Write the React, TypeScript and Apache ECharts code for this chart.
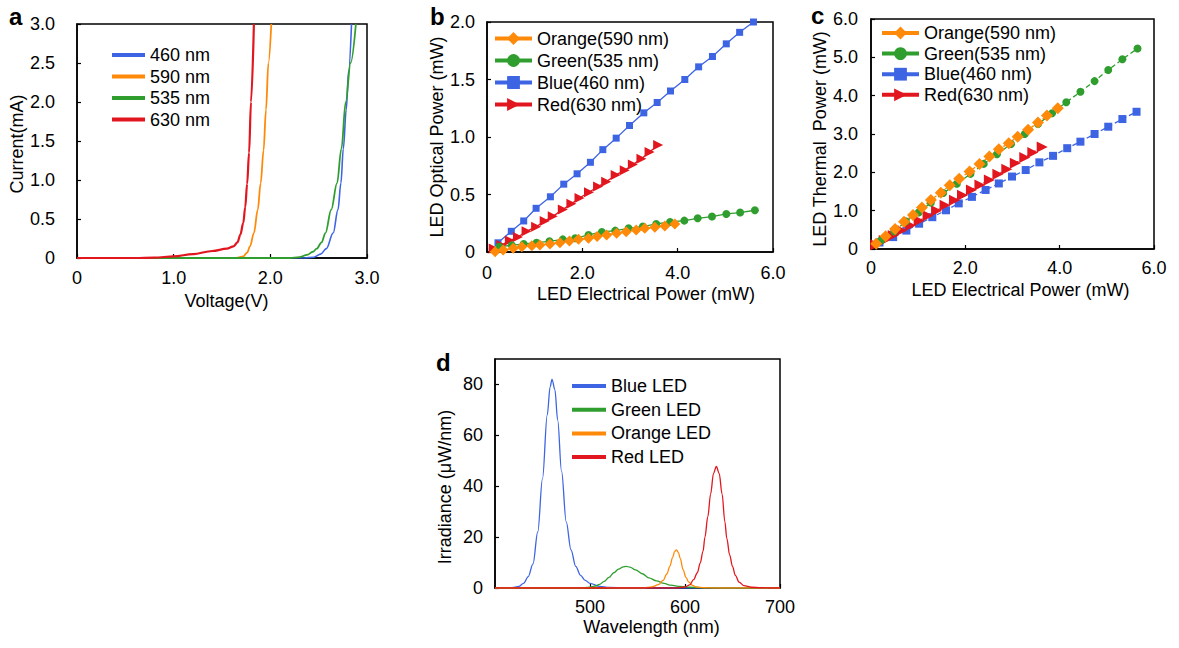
import React, { useEffect, useRef } from 'react';
import * as echarts from 'echarts';

const FONT = '"Liberation Sans", Arial, Helvetica, sans-serif';

const BLUE = '#3D64E3';
const ORANGE = '#FF8A0A';
const GREEN = '#2F9E2F';
const RED = '#E2161E';

// ---------- Panel a: I-V curves [voltage V, current mA] ----------
const a460 = [[0, 0], [2.35, 0], [2.45, 0.01], [2.52, 0.05], [2.58, 0.12], [2.65, 0.32], [2.7, 0.62], [2.73, 0.96], [2.755, 1.4], [2.785, 1.9], [2.81, 2.4], [2.84, 3.0]];
const a590 = [[0, 0], [1.65, 0], [1.72, 0.02], [1.76, 0.07], [1.79, 0.15], [1.83, 0.32], [1.87, 0.62], [1.9, 0.96], [1.93, 1.38], [1.955, 1.9], [1.98, 2.5], [2.01, 3.0]];
const a535 = [[0, 0], [2.2, 0], [2.3, 0.01], [2.38, 0.04], [2.44, 0.08], [2.48, 0.12], [2.53, 0.2], [2.57, 0.32], [2.63, 0.62], [2.69, 0.96], [2.735, 1.4], [2.78, 2.0], [2.83, 2.5], [2.885, 3.0]];
const a630 = [[0, 0], [0.6, 0], [0.8, 0.005], [1.0, 0.02], [1.2, 0.05], [1.4, 0.09], [1.55, 0.12], [1.62, 0.15], [1.66, 0.2], [1.69, 0.3], [1.72, 0.45], [1.74, 0.65], [1.76, 0.95], [1.78, 1.35], [1.8, 2.0], [1.83, 3.0]];
const aNames = ['460 nm', '590 nm', '535 nm', '630 nm'];

// ---------- Panel b: optical power [electrical mW, optical mW] ----------
const bBlue = [[0.23, 0.08], [0.51, 0.18], [0.77, 0.27], [1.03, 0.38], [1.33, 0.48], [1.61, 0.59], [1.89, 0.68], [2.17, 0.78], [2.43, 0.89], [2.71, 0.99], [2.99, 1.1], [3.29, 1.21], [3.57, 1.3], [3.85, 1.4], [4.15, 1.5], [4.44, 1.61], [4.73, 1.7], [5.02, 1.81], [5.3, 1.91], [5.59, 2.0]];
const bRed = [[0.14, 0.03], [0.3, 0.06], [0.48, 0.1], [0.65, 0.13], [0.83, 0.18], [1.03, 0.22], [1.21, 0.27], [1.38, 0.31], [1.59, 0.37], [1.77, 0.42], [1.94, 0.47], [2.14, 0.52], [2.33, 0.57], [2.5, 0.61], [2.7, 0.67], [2.89, 0.71], [3.06, 0.76], [3.24, 0.81], [3.41, 0.87], [3.59, 0.93]];
const bGreen = [[0.26, 0.046], [0.52, 0.058], [0.77, 0.07], [1.04, 0.081], [1.31, 0.093], [1.59, 0.11], [1.85, 0.119], [2.13, 0.148], [2.41, 0.174], [2.69, 0.186], [2.97, 0.206], [3.27, 0.221], [3.55, 0.244], [3.84, 0.261], [4.14, 0.273], [4.42, 0.293], [4.72, 0.308], [5.02, 0.331], [5.31, 0.343], [5.62, 0.363]];
const bOrange = [[0.17, 0.003], [0.34, 0.017], [0.55, 0.032], [0.73, 0.046], [0.94, 0.055], [1.11, 0.061], [1.32, 0.07], [1.53, 0.081], [1.73, 0.096], [1.92, 0.11], [2.13, 0.119], [2.31, 0.134], [2.51, 0.148], [2.72, 0.163], [2.92, 0.177], [3.13, 0.192], [3.31, 0.206], [3.52, 0.215], [3.73, 0.227], [3.94, 0.244]];

// ---------- Panel c: thermal power [electrical mW, thermal mW] ----------
const cBlue = [[0.18, 0.17], [0.47, 0.31], [0.75, 0.48], [1.02, 0.66], [1.3, 0.83], [1.59, 1.01], [1.86, 1.19], [2.14, 1.36], [2.43, 1.54], [2.71, 1.71], [2.99, 1.89], [3.28, 2.06], [3.57, 2.26], [3.86, 2.43], [4.16, 2.63], [4.44, 2.8], [4.74, 3.0], [5.03, 3.19], [5.33, 3.39], [5.63, 3.58]];
const cRed = [[0.1, 0.11], [0.28, 0.22], [0.47, 0.35], [0.65, 0.48], [0.84, 0.61], [1.02, 0.74], [1.21, 0.87], [1.39, 1.0], [1.57, 1.14], [1.77, 1.27], [1.94, 1.4], [2.13, 1.54], [2.31, 1.67], [2.51, 1.8], [2.69, 1.95], [2.88, 2.08], [3.06, 2.24], [3.26, 2.39], [3.43, 2.52], [3.63, 2.66]];
const cGreen = [[0.21, 0.22], [0.49, 0.46], [0.74, 0.72], [1.01, 0.95], [1.27, 1.21], [1.53, 1.46], [1.82, 1.7], [2.11, 1.96], [2.39, 2.22], [2.67, 2.47], [2.97, 2.74], [3.26, 3.0], [3.54, 3.26], [3.84, 3.54], [4.14, 3.83], [4.44, 4.1], [4.74, 4.38], [5.03, 4.67], [5.33, 4.95], [5.65, 5.23]];
const cOrange = [[0.11, 0.14], [0.31, 0.33], [0.51, 0.52], [0.7, 0.71], [0.89, 0.89], [1.08, 1.08], [1.27, 1.28], [1.48, 1.47], [1.67, 1.66], [1.87, 1.83], [2.09, 2.02], [2.3, 2.22], [2.51, 2.41], [2.71, 2.6], [2.92, 2.76], [3.11, 2.93], [3.33, 3.11], [3.54, 3.3], [3.73, 3.48], [3.96, 3.67]];
const bcNames = ['Orange(590 nm)', 'Green(535 nm)', 'Blue(460 nm)', 'Red(630 nm)'];

// ---------- Panel d: spectra [wavelength nm, irradiance µW/nm] ----------
const dBlue = [[400, 0], [415, 0], [420, 0.2], [425, 0.6], [430, 1.8], [435, 4.5], [440, 9.5], [445, 22], [450, 43], [455, 68], [458, 79], [460, 82], [463, 78], [466, 66], [470, 46], [475, 26], [480, 15], [485, 8.5], [490, 5], [495, 3], [500, 1.8], [510, 0.6], [520, 0.2], [540, 0], [700, 0]];
const dGreen = [[400, 0], [490, 0], [500, 0.3], [505, 0.7], [510, 1.4], [515, 2.6], [520, 4.2], [525, 6], [530, 7.4], [535, 8.3], [538, 8.5], [542, 8.2], [548, 7.1], [555, 5.6], [562, 4.0], [570, 2.8], [578, 1.8], [585, 1.1], [595, 0.6], [605, 0.3], [620, 0.1], [640, 0], [700, 0]];
const dOrange = [[400, 0], [555, 0], [565, 0.4], [572, 1.3], [577, 3.0], [581, 5.6], [584, 8.5], [587, 12], [589, 14.3], [591, 15], [593, 14], [595, 11.6], [598, 7.2], [601, 4.2], [604, 2.3], [608, 1.0], [612, 0.4], [620, 0.1], [630, 0], [700, 0]];
const dRed = [[400, 0], [590, 0], [600, 0.4], [605, 1.2], [609, 3.3], [613, 6], [616, 9.8], [619, 14.5], [621, 20], [624, 28], [627, 37], [630, 45], [633, 47.8], [636, 45], [639, 37], [642, 26], [644, 19.5], [647, 13], [650, 8.5], [653, 5], [657, 2.3], [662, 0.9], [670, 0.3], [680, 0.1], [690, 0], [700, 0]];
const dNames = ['Blue LED', 'Green LED', 'Orange LED', 'Red LED'];

const oneDec = (v: number) => (v === 0 ? '0' : v.toFixed(1));

function axis(o: any) {
  return {
    type: 'value',
    gridIndex: o.grid,
    min: o.min,
    max: o.max,
    interval: o.interval,
    name: o.name,
    nameLocation: 'middle',
    nameGap: o.nameGap,
    nameTextStyle: { color: '#000', fontSize: 18, fontFamily: FONT, padding: o.namePad || 0 },
    axisLine: { show: true, onZero: false, lineStyle: { color: '#000', width: 1.5 } },
    axisTick: { show: true, inside: true, length: 4, lineStyle: { color: '#000', width: 1.2 } },
    axisLabel: {
      color: '#000',
      fontSize: 18,
      fontFamily: FONT,
      margin: o.margin,
      formatter: o.formatter,
      showMinLabel: o.showMin !== false,
      showMaxLabel: o.showMax !== false,
    },
    splitLine: { show: false },
  };
}

function option(): any {
  const grids = [
    { left: 77, top: 24, width: 290, height: 234 },
    { left: 487, top: 22, width: 286, height: 230 },
    { left: 871, top: 19, width: 283, height: 230 },
    { left: 495, top: 359, width: 285, height: 229 },
  ].map((g) => ({ ...g, show: true, borderColor: '#000', borderWidth: 1.5, containLabel: false }));

  const xAxis = [
    axis({ grid: 0, min: 0, max: 3, interval: 1, name: 'Voltage(V)', nameGap: 34, namePad: [0, 0, 0, 9], margin: 11, formatter: oneDec }),
    axis({ grid: 1, min: 0, max: 6, interval: 2, name: 'LED Electrical Power (mW)', nameGap: 33, namePad: [0, 0, 0, 32], margin: 12, formatter: oneDec }),
    axis({ grid: 2, min: 0, max: 6, interval: 2, name: 'LED Electrical Power (mW)', nameGap: 32, namePad: [0, 0, 0, 16], margin: 10, formatter: oneDec }),
    axis({ grid: 3, min: 400, max: 700, interval: 100, name: 'Wavelength (nm)', nameGap: 30, namePad: [0, 0, 0, 28], margin: 10, showMin: false }),
  ];
  const yAxis = [
    axis({ grid: 0, min: 0, max: 3, interval: 0.5, name: 'Current(mA)', nameGap: 50, namePad: [0, 6, 0, 0], margin: 22, formatter: oneDec }),
    axis({ grid: 1, min: 0, max: 2, interval: 0.5, name: 'LED Optical Power (mW)', nameGap: 38, margin: 12, formatter: oneDec }),
    axis({ grid: 2, min: 0, max: 6, interval: 1, name: 'LED Thermal  Power (mW)', nameGap: 40, namePad: [0, 10, 0, 0], margin: 13, formatter: oneDec }),
    axis({ grid: 3, min: 0, max: 90, interval: 20, name: 'Irradiance (\u03bcW/nm)', nameGap: 41, namePad: [0, 27, 0, 0], margin: 12, showMax: false }),
  ];

  const curve = (name: string, data: number[][], color: string, idx: number, width: number) => ({
    type: 'line',
    name,
    data,
    xAxisIndex: idx,
    yAxisIndex: idx,
    symbol: 'none',
    smooth: 0.35,
    smoothMonotone: 'x',
    color,
    lineStyle: { color, width },
    z: 3,
  });

  const pts = (
    name: string,
    data: number[][],
    color: string,
    idx: number,
    symbol: string,
    size: number,
    rotate: number,
    lineType: any,
  ) => ({
    type: 'line',
    name,
    data,
    xAxisIndex: idx,
    yAxisIndex: idx,
    symbol,
    symbolSize: size,
    symbolRotate: rotate,
    showSymbol: true,
    color,
    itemStyle: { color, borderWidth: 0 },
    lineStyle: { color, width: 1.3, type: lineType },
    z: 3,
  });

  const series = [
    curve(aNames[0], a460, BLUE, 0, 1.6),
    curve(aNames[1], a590, ORANGE, 0, 1.8),
    curve(aNames[2], a535, GREEN, 0, 1.8),
    curve(aNames[3], a630, RED, 0, 2.2),

    pts(bcNames[2], bBlue, BLUE, 1, 'rect', 7, 0, 'solid'),
    pts(bcNames[3], bRed, RED, 1, 'triangle', 10, -90, 'solid'),
    pts(bcNames[1], bGreen, GREEN, 1, 'circle', 8, 0, 'solid'),
    pts(bcNames[0], bOrange, ORANGE, 1, 'diamond', 11, 0, 'solid'),

    pts(bcNames[2], cBlue, BLUE, 2, 'rect', 8, 0, [5, 3]),
    pts(bcNames[3], cRed, RED, 2, 'triangle', 11, -90, [1.5, 2.5]),
    pts(bcNames[1], cGreen, GREEN, 2, 'circle', 8, 0, [5, 3]),
    pts(bcNames[0], cOrange, ORANGE, 2, 'diamond', 12, 0, [5, 3]),

    curve(dNames[0], dBlue, BLUE, 3, 1.3),
    curve(dNames[1], dGreen, GREEN, 3, 1.3),
    curve(dNames[2], dOrange, ORANGE, 3, 1.3),
    curve(dNames[3], dRed, RED, 3, 1.3),
  ];

  const legText = { color: '#000', fontSize: 18, fontFamily: FONT, lineHeight: 20 };
  const legend = [
    { data: aNames, left: 107, top: 40, orient: 'vertical', icon: 'rect', itemWidth: 33, itemHeight: 4, itemGap: 1.5, textStyle: legText, selectedMode: false },
    { data: bcNames, left: 488, top: 23.5, orient: 'vertical', itemWidth: 37, itemHeight: 16, itemGap: 2, textStyle: legText, selectedMode: false, lineStyle: { width: 4 } },
    { data: bcNames, left: 875, top: 18, orient: 'vertical', itemWidth: 37, itemHeight: 16, itemGap: 0.6, textStyle: legText, selectedMode: false, lineStyle: { width: 4 } },
    { data: dNames, left: 567, top: 371, orient: 'vertical', icon: 'rect', itemWidth: 34, itemHeight: 4, itemGap: 3.7, textStyle: legText, selectedMode: false },
  ];

  const letter = (t: string, x: number, y: number) => ({
    type: 'text',
    left: x,
    top: y,
    style: { text: t, fill: '#000', font: `bold 24px ${FONT}` },
  });

  return {
    animation: false,
    backgroundColor: '#fff',
    grid: grids,
    xAxis,
    yAxis,
    series,
    legend,
    graphic: [letter('a', 9, 4), letter('b', 430, 4), letter('c', 811, 3), letter('d', 436, 350)],
  };
}

export default function App() {
  const ref = useRef<HTMLDivElement>(null);
  useEffect(() => {
    document.body.style.margin = '0';
    const chart = echarts.init(ref.current as HTMLDivElement, null, { renderer: 'svg' });
    chart.setOption(option());
    return () => chart.dispose();
  }, []);
  return <div ref={ref} style={{ width: 1179, height: 648 }} />;
}
